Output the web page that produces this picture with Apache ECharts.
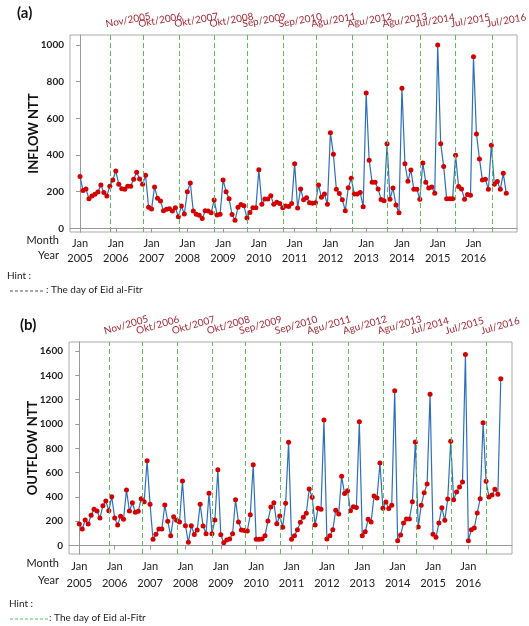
<!DOCTYPE html>
<html>
<head>
<meta charset="utf-8">
<script src="https://cdn.jsdelivr.net/npm/echarts@6/dist/echarts.min.js"></script>
<style>
html,body{margin:0;padding:0;background:#fff;}
#chart{width:529px;height:626px;}
</style>
</head>
<body>
<div id="chart"></div>
<script>
// ---- data (monthly, Jan 2005 .. Dec 2016) ----
const years = ['2005','2006','2007','2008','2009','2010','2011','2012','2013','2014','2015','2016'];
const monthLabel = 'Jan';
const inflow = [
283,206,215,162,177,186,198,237,195,177,230,264,
313,240,216,213,230,230,268,306,269,240,290,115,
106,226,164,149,96,104,107,94,113,63,122,78,
200,248,94,77,71,53,96,94,85,155,73,77,
264,200,162,76,44,115,130,123,57,86,113,113,
320,131,160,160,178,131,142,135,112,122,119,135,
353,111,215,156,167,140,137,140,237,169,187,131,
522,404,213,190,156,96,222,273,188,188,195,118,
738,372,251,251,215,158,151,462,159,220,127,85,
764,353,257,319,213,213,159,357,251,220,226,191,
1000,462,338,162,162,162,399,228,215,159,184,180,
936,515,379,264,268,213,453,240,255,213,300,191
];
const outflow = [
177,136,210,177,248,298,284,226,328,366,287,402,
226,169,240,216,457,284,352,273,281,385,361,698,
339,51,92,136,136,333,200,81,237,207,193,531,
163,26,163,91,128,339,160,97,430,97,210,624,
89,23,45,53,97,377,193,128,123,120,253,665,
51,51,53,81,202,317,352,179,243,150,347,850,
51,81,130,191,232,265,465,397,169,306,298,1033,
53,81,130,290,259,569,427,451,287,319,313,1019,
81,113,216,194,407,391,679,306,358,304,331,1274,
40,86,185,218,218,360,852,152,331,435,506,1244,
92,67,185,311,207,383,858,377,440,481,523,1573,
40,130,144,267,385,1011,528,399,416,462,421,1373
];
// Eid al-Fitr positions (month index, fractional) and their labels
const eidPos = [10.25,21.2,33.3,45.15,56.15,68.25,79.15,91.35,103.1,114.2,126.05,138.15];
const eidLabels = ['Nov/2005','Okt/2006','Okt/2007','Okt/2008','Sep/2009','Sep/2010','Agu/2011','Agu/2012','Agu/2013','Jul/2014','Jul/2015','Jul/2016'];
const ticksA = [0,200,400,600,800,1000];
const ticksB = [0,200,400,600,800,1000,1200,1400,1600];
const panelTitles = ['(a)','(b)'];
const yNames = ['INFLOW NTT','OUTFLOW NTT'];
const hintText = 'Hint :';
const hintLegend = ': The day of Eid al-Fitr';

// ---- build ----
const FONT = 'Lato, "Open Sans", sans-serif';
const janTicks = years.map((y,i)=>i*12);
const yMaxA = 1055, yMaxB = 1675;

function xAxisCfg(gridIndex, min, max, lh){
  return {
    type:'value', gridIndex, min, max,
    axisLine:{show:true, lineStyle:{color:'#999'}},
    axisTick:{show:true, customValues: janTicks, length:4, lineStyle:{color:'#999'}},
    axisLabel:{show:true, customValues: janTicks, margin:4, color:'#222', fontSize:11, fontFamily:FONT, lineHeight:lh,
      formatter:(v)=> monthLabel + '\n' + years[Math.round(v/12)]},
    splitLine:{show:false}
  };
}
function yAxisCfg(gridIndex, min, max, ticks, name){
  return {
    type:'value', gridIndex, min, max,
    name, nameLocation:'middle', nameRotate:90, nameGap:30, nameMoveOverlap:false,
    nameTextStyle:{fontSize:13, fontWeight:'bold', color:'#111', fontFamily:FONT},
    axisLine:{show:true, lineStyle:{color:'#999'}},
    axisTick:{show:true, customValues: ticks, length:4, lineStyle:{color:'#999'}},
    axisLabel:{show:true, customValues: ticks, margin:6, color:'#222', fontSize:10, fontWeight:'bold', fontFamily:FONT,
      formatter:(v)=> String(v)},
    splitLine:{show:false}
  };
}
function lineSeries(idx, data){
  return {
    type:'line', xAxisIndex:idx, yAxisIndex:idx,
    data: data.map((v,i)=>[i,v]),
    symbol:'circle', symbolSize:5,
    itemStyle:{color:'#d40000'},
    lineStyle:{color:'#2f6fb8', width:1.2},
    markLine:{
      silent:true, symbol:['none','none'],
      label:{show:false},
      lineStyle:{color:'#5dbb5d', type:[5,3], width:1},
      data: eidPos.map(x=>({xAxis:x}))
    },
    z:3
  };
}
function eidLabelSeries(idx, ymax, rot){
  return {
    type:'custom', xAxisIndex:idx, yAxisIndex:idx, silent:true, clip:false,
    data: eidPos.map((x,i)=>[x,i]),
    renderItem:(params, api)=>{
      const p = api.coord([api.value(0), ymax]);
      return {type:'text', x:p[0]-4, y:p[1]-6, rotation: rot*Math.PI/180,
        style:{text: eidLabels[params.dataIndex], fill:'#a52a35', fontSize:10, fontFamily:FONT,
          textAlign:'left', textVerticalAlign:'bottom'}};
    },
    z:5
  };
}

const chart = echarts.init(document.getElementById('chart'), null, {renderer:'canvas'});
chart.setOption({
  animation:false,
  backgroundColor:'#fff',
  grid:[
    {left:70, top:35, width:447, height:197, show:true, borderColor:'#aaa', borderWidth:1},
    {left:69, top:342, width:443, height:212, show:true, borderColor:'#aaa', borderWidth:1}
  ],
  xAxis:[ xAxisCfg(0, -3.36, 146.6, 15), xAxisCfg(1, -3.5, 146.8, 17) ],
  yAxis:[ yAxisCfg(0, -20, yMaxA, ticksA, yNames[0]), yAxisCfg(1, -70, yMaxB, ticksB, yNames[1]) ],
  series:[
    lineSeries(0, inflow), lineSeries(1, outflow),
    eidLabelSeries(0, yMaxA, 10), eidLabelSeries(1, yMaxB, 16)
  ],
  graphic:[
    {type:'text', left:17, top:6, style:{text:panelTitles[0], fontSize:15, fontWeight:'bold', fill:'#111', fontFamily:FONT}},
    {type:'text', left:20, top:318, style:{text:panelTitles[1], fontSize:15, fontWeight:'bold', fill:'#111', fontFamily:FONT}},
    {type:'text', right:470, top:235, style:{text:'Month', fontSize:11, fill:'#222', fontFamily:FONT, align:'right'}},
    {type:'text', right:470, top:250, style:{text:'Year', fontSize:11, fill:'#222', fontFamily:FONT, align:'right'}},
    {type:'text', right:470, top:558, style:{text:'Month', fontSize:11, fill:'#222', fontFamily:FONT, align:'right'}},
    {type:'text', right:470, top:575, style:{text:'Year', fontSize:11, fill:'#222', fontFamily:FONT, align:'right'}},
    {type:'text', left:7, top:271, style:{text:hintText, fontSize:10, fill:'#222', fontFamily:FONT}},
    {type:'line', shape:{x1:10, y1:291, x2:44, y2:291}, style:{stroke:'#555', lineDash:[3,2], lineWidth:1}},
    {type:'text', left:46, top:285, style:{text:hintLegend, fontSize:10, fill:'#222', fontFamily:FONT}},
    {type:'text', left:9, top:599, style:{text:hintText, fontSize:10, fill:'#222', fontFamily:FONT}},
    {type:'line', shape:{x1:10, y1:619, x2:48, y2:619}, style:{stroke:'#5dbb5d', lineDash:[3,2], lineWidth:1}},
    {type:'text', left:49, top:613, style:{text:hintLegend, fontSize:10, fill:'#222', fontFamily:FONT}}
  ]
});
</script>
</body>
</html>
